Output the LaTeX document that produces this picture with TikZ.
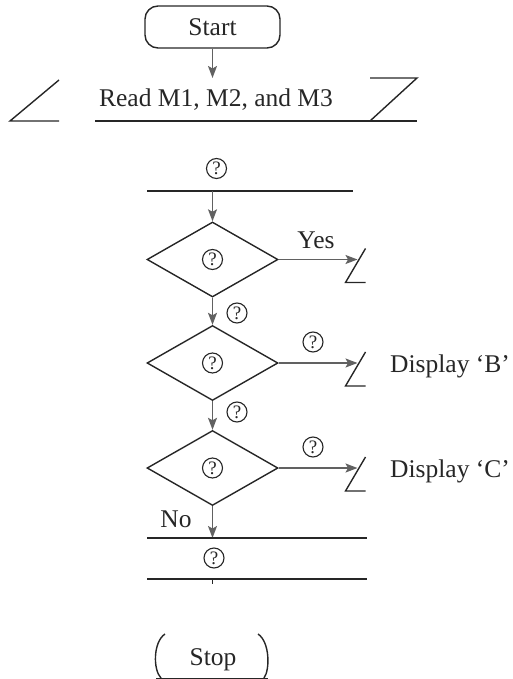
\documentclass[tikz,border=0pt]{standalone}
\usepackage{fontspec}
\setmainfont{Liberation Serif}
\usetikzlibrary{shapes.geometric,arrows.meta}
\begin{document}
\begin{tikzpicture}[x=1pt,y=-1pt,
  ln/.style={draw=black!85, line width=1.4pt},
  arr/.style={draw=black!62, line width=1.4pt, -{Stealth[length=12pt,width=9pt,inset=2.5pt]}},
  txt/.style={font=\fontsize{25.5}{30}\selectfont, text=black!85, inner sep=0pt},
  qc/.style={circle, draw=black!85, line width=1.1pt, minimum size=20pt, inner sep=0pt, font=\fontsize{19}{20}\selectfont, text=black!85},
  dec/.style={diamond, draw=black!85, line width=1.4pt, minimum width=131pt, minimum height=75pt, inner sep=0pt},
  term/.style={rectangle, rounded corners=13pt, draw=black!85, line width=1.4pt, minimum width=135pt, minimum height=42pt, inner sep=0pt, font=\fontsize{25.5}{30}\selectfont, text=black!85}]
\useasboundingbox (0,0) rectangle (512,679);

% Start
\node[term] (start) at (212.5,27) {Start};
\coordinate (readtop) at (212.5,78);
\draw[arr] (start.south) -- (readtop);

% Read parallelogram
\node[txt, anchor=base] (read) at (216,107) {Read M1, M2, and M3};
\draw[ln] (59,80) -- (10,121) -- (59,121);
\draw[ln] (95,121) -- (417,121);
\draw[ln] (370,78) -- (417,78) -- (370,121);

% first process line
\node[qc] (q0) at (216.5,168.5) {?};
\draw[ln] (147,191) -- (353,191);
\coordinate (l1) at (212.5,191);

% decisions
\node[dec] (d1) at (212.5,259.5) {};
\node[qc] (q1) at (d1) {?};
\node[dec] (d2) at (212.5,363) {};
\node[qc] (q2) at (d2) {?};
\node[dec] (d3) at (212.5,468) {};
\node[qc] (q3) at (d3) {?};

\draw[arr] (l1) -- (d1.north);
\draw[arr] (d1.south) -- (d2.north);
\draw[arr] (d2.south) -- (d3.north);
\node[qc] (qa) at (237,313) {?};
\node[qc] (qb) at (237,412) {?};

% right branches
\coordinate (z1) at (357.5,259.5);
\coordinate (z2) at (357.5,363);
\coordinate (z3) at (357.5,468);
\draw[arr] (d1.east) -- (z1);
\draw[arr] (d2.east) -- (z2);
\draw[arr] (d3.east) -- (z3);
\foreach \z in {z1,z2,z3}{
  \draw[ln] ([shift={(8,-11)}]\z) -- ([shift={(-12,23)}]\z) -- ([shift={(8,23)}]\z);
}
\node[txt, anchor=base] (yes) at (316,248) {Yes};
\node[qc] (qr2) at (313,342) {?};
\node[qc] (qr3) at (313,447) {?};
\node[txt, anchor=base west] (dispB) at (390,372) {Display ‘B’};
\node[txt, anchor=base west] (dispC) at (390,477) {Display ‘C’};

% No branch
\node[txt, anchor=base] (no) at (176,527) {No};
\coordinate (l3) at (212.5,538);
\draw[arr] (d3.south) -- (l3);
\draw[ln] (147,538) -- (367,538);
\node[qc] (q4) at (214,558) {?};
\draw[ln] (147,579) -- (367,579);
\coordinate (l4) at (212,579);
\coordinate (l4b) at (212,584);
\draw[ln, line width=0.9pt] (l4) -- (l4b);

% Stop
\node[txt, anchor=base] (stop) at (213,665) {Stop};
\draw[ln] (165,634) .. controls (153,642) and (153,670) .. (161,678);
\draw[ln] (258,634) .. controls (270,642) and (270,670) .. (264,678);
\draw[ln] (156,678.3) -- (268,678.3);
\end{tikzpicture}
\end{document}
